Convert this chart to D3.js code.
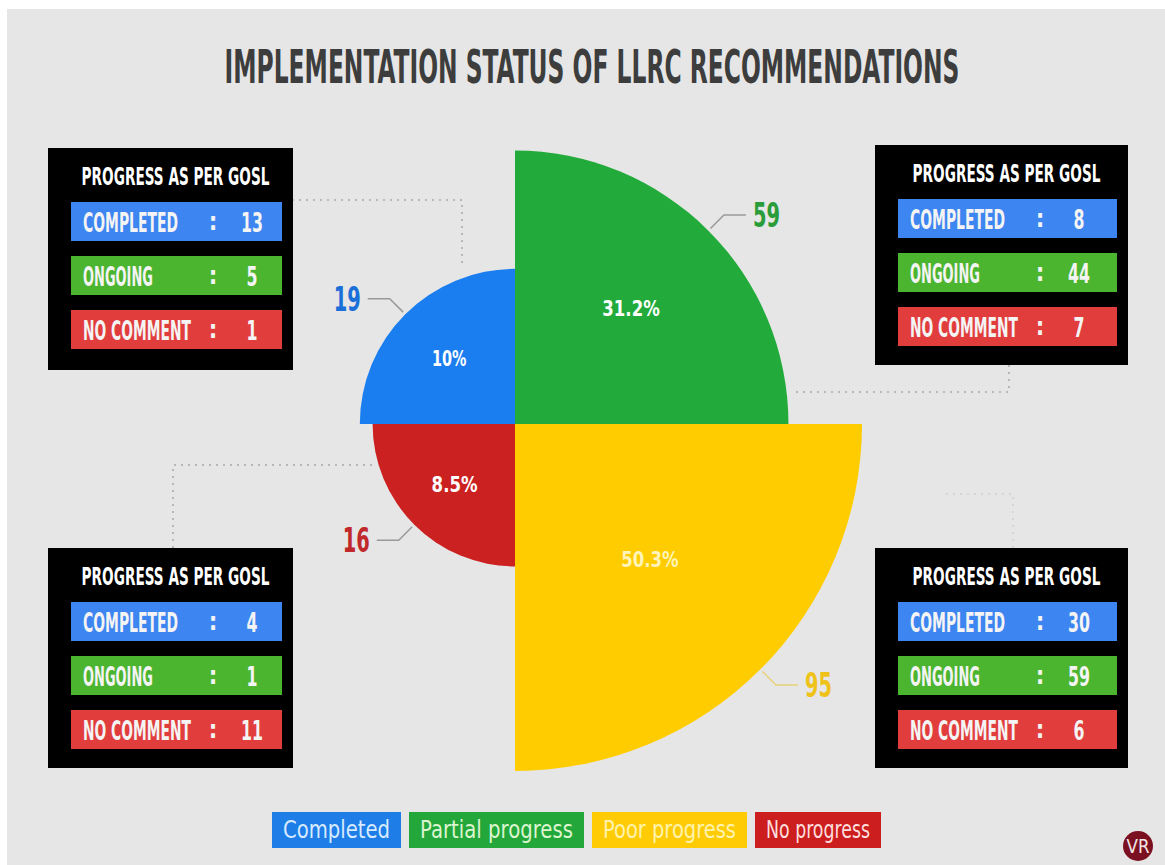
<!DOCTYPE html>
<meta charset="utf-8">
<script src="https://d3js.org/d3.v7.min.js"></script>
<style>
  body { margin: 0; background: #fff; }
  text { font-family: "DejaVu Sans Condensed", "Liberation Sans", sans-serif; }
</style>
<body>
<div id="canvas"></div>
<script>

  // data
  var categories = ["Completed", "Partial progress", "Poor progress", "No progress"];
  var values = [19, 59, 95, 16];
  var goslLabels = ["COMPLETED", "ONGOING", "NO COMMENT"];
  var goslCompleted = [13, 8, 30, 4];
  var goslOngoing = [5, 44, 59, 1];
  var goslNoComment = [1, 7, 6, 11];

  var width = 1165, height = 865;
  var cx = 515, cy = 424;

  var pieColors = ["#1a7ef0", "#22ab3b", "#ffcc00", "#cc2121"];
  var labelColors = ["#1a6fd8", "#2a9d3a", "#efc21a", "#c0282b"];
  var legendColors = ["#1f7de8", "#23a73a", "#ffcb05", "#cc1e1e"];
  var legendText = ["#d6ebff", "#dcf5cf", "#fff3ad", "#ffdede"];
  var barColors = ["#3d85f0", "#4cb52f", "#e23d3d"];

  var svg = d3.select("#canvas")
    .append("svg")
    .attr("width", width)
    .attr("height", height);

  // background with thin white margin top/left
  svg.append("rect").attr("width", width).attr("height", height).attr("fill", "#fff");
  svg.append("rect").attr("x", 7).attr("y", 9)
    .attr("width", width - 7).attr("height", height - 9).attr("fill", "#e6e6e6");

  // helper: text squeezed horizontally to width w (condensed look)
  function fitText(parent, str, x, y, w, o) {
    var t = parent.append("text")
      .attr("x", 0).attr("y", 0)
      .attr("text-anchor", o.anchor || "start")
      .attr("font-size", o.size)
      .attr("font-weight", o.weight || "bold")
      .attr("fill", o.fill)
      .text(str);
    if (o.dy) t.attr("dy", o.dy);
    if (o.family) t.attr("font-family", o.family);
    var len = t.node().getComputedTextLength();
    t.attr("transform", "translate(" + x + "," + y + ") scale(" + (w / len) + ",1)");
    return t;
  }

  // title
  fitText(svg, "IMPLEMENTATION STATUS OF LLRC RECOMMENDATIONS", 592, 83, 735,
    {anchor: "middle", size: 46, fill: "#3d3d3d"});

  // dotted connectors (box -> quadrant)
  var connectors = [
    [[292, 200], [462, 200], [462, 268]],
    [[1009, 365], [1009, 392], [792, 392]],
    [[1013, 548], [1013, 494], [945, 494]],
    [[372, 465], [173, 465], [173, 548]]
  ];
  var line = d3.line();
  svg.selectAll("path.conn")
    .data(connectors)
    .enter()
    .append("path")
    .attr("class", "conn")
    .attr("d", line)
    .attr("fill", "none")
    .attr("stroke", "#a8a8a8")
    .attr("stroke-width", 1.5)
    .attr("stroke-dasharray", "2,5")
    .attr("opacity", function(d, i) { return i == 2 ? 0.35 : 1; });

  // the quarter pie: equal angles, radius by sqrt(value)
  var r = d3.scaleSqrt()
    .domain([0, d3.max(values)])
    .range([0, 347]);

  var pie = d3.pie()
    .value(function() { return 1; })
    .sort(null)
    .startAngle(-Math.PI / 2)
    .endAngle(3 * Math.PI / 2);

  var arcs = pie(values);
  var arc = d3.arc()
    .innerRadius(0)
    .outerRadius(function(d) { return r(d.data); });

  var g = svg.append("g")
    .attr("transform", "translate(" + cx + "," + cy + ")");

  g.selectAll("path")
    .data(arcs)
    .enter()
    .append("path")
    .attr("d", arc)
    .attr("fill", function(d, i) { return pieColors[i]; });

  var total = d3.sum(values);
  function polar(a, rad) { return [Math.sin(a) * rad, -Math.cos(a) * rad]; }
  function mid(d) { return (d.startAngle + d.endAngle) / 2; }
  function pctText(v) {
    var p = v / total * 100;
    if (Math.abs(p - Math.round(p)) < 0.1) return Math.round(p) + "%";
    return p.toFixed(1) + "%";
  }

  // percent labels
  arcs.forEach(function(d, i) {
    var p = polar(mid(d), r(d.data) * (i == 2 ? 0.55 : 0.6));
    var s = pctText(d.data);
    fitText(g, s, p[0], p[1], s.length * 11.5,
      {anchor: "middle", size: 22, dy: "0.36em", fill: i == 2 ? "#fff4b8" : "#fff"});
  });

  // value labels with leader lines
  arcs.forEach(function(d, i) {
    var a = mid(d);
    var p1 = polar(a, r(d.data) + 3);
    var p2 = polar(a, r(d.data) + 22);
    var dir = p2[0] < 0 ? -1 : 1;
    var p3 = [p2[0] + dir * 22, p2[1]];
    g.append("path")
      .attr("d", line([p1, p2, p3]))
      .attr("fill", "none")
      .attr("stroke", i == 2 ? "#e8d27a" : "#9a9a9a")
      .attr("stroke-width", 1.5);
    var s = String(d.data);
    fitText(g, s, p3[0] + dir * 7, p3[1], s.length * 13.5,
      {anchor: dir < 0 ? "end" : "start", size: 34, dy: "0.36em", fill: labelColors[i]});
  });

  // GOSL boxes
  var boxes = [
    {x: 48, y: 148, w: 245, h: 222},
    {x: 875, y: 145, w: 253, h: 220},
    {x: 875, y: 548, w: 253, h: 220},
    {x: 48, y: 548, w: 245, h: 220}
  ];
  var labelW = [95, 70, 108];

  categories.forEach(function(c, i) {
    var b = boxes[i];
    var rows = [goslCompleted[i], goslOngoing[i], goslNoComment[i]];
    var bx = svg.append("g").attr("transform", "translate(" + b.x + "," + b.y + ")");
    bx.append("rect").attr("width", b.w).attr("height", b.h).attr("fill", "#000");
    fitText(bx, "PROGRESS AS PER GOSL", b.w / 2 + 5, 37, 188,
      {anchor: "middle", size: 25, fill: "#fff"});
    var barX = 23, barW = b.w - 34;
    rows.forEach(function(v, j) {
      var y0 = 54 + j * 54;
      bx.append("rect")
        .attr("x", barX).attr("y", y0)
        .attr("width", barW).attr("height", 39)
        .attr("fill", barColors[j]);
      fitText(bx, goslLabels[j], barX + 12, y0 + 30, labelW[j],
        {size: 27, fill: "#f4f4f4"});
      bx.append("text")
        .attr("x", barX + 142).attr("y", y0 + 28)
        .attr("text-anchor", "middle")
        .attr("font-size", 24)
        .attr("font-weight", "bold")
        .attr("fill", "#f4f4f4")
        .text(":");
      var s = String(v);
      fitText(bx, s, barX + 181, y0 + 30, s.length * 11,
        {anchor: "middle", size: 27, fill: "#f4f4f4"});
    });
  });

  // legend
  var legendW = [129, 175, 155, 126];
  var lx = 272;
  categories.forEach(function(c, i) {
    svg.append("rect")
      .attr("x", lx).attr("y", 812)
      .attr("width", legendW[i]).attr("height", 36)
      .attr("fill", legendColors[i]);
    fitText(svg, c, lx + legendW[i] / 2, 838, legendW[i] - 22,
      {anchor: "middle", size: 24, weight: "normal", fill: legendText[i]});
    lx += legendW[i] + 8;
  });

  // VR mark
  svg.append("circle").attr("cx", 1138).attr("cy", 846).attr("r", 15).attr("fill", "#7a1020");
  fitText(svg, "VR", 1138, 853, 23,
    {anchor: "middle", size: 19, weight: "normal", fill: "#f3e6e6", family: "'Liberation Serif', serif"});

</script>
</body>
